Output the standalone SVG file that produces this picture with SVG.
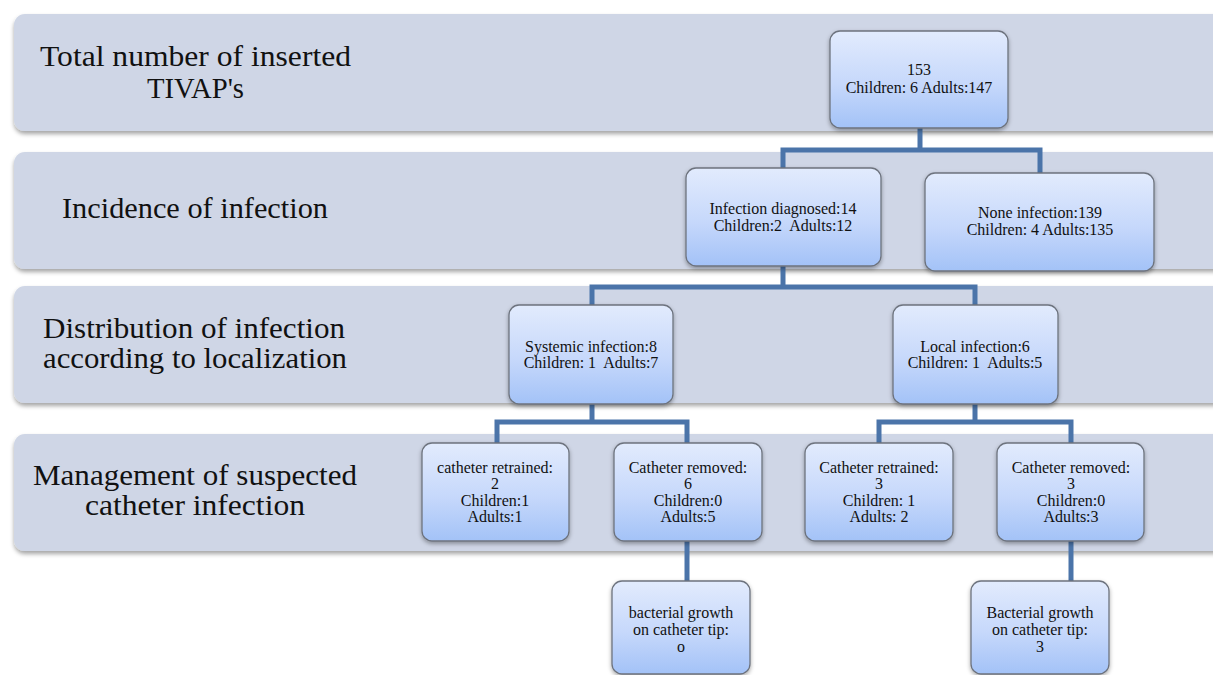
<svg xmlns="http://www.w3.org/2000/svg" width="1213" height="675" viewBox="0 0 1213 675">
  <defs>
    <linearGradient id="boxFill" x1="0" y1="0" x2="0" y2="1">
      <stop offset="0" stop-color="#e2ebfd"/>
      <stop offset="0.55" stop-color="#c6d8fb"/>
      <stop offset="1" stop-color="#a3c2f7"/>
    </linearGradient>
    <filter id="bandShadow" x="-5%" y="-20%" width="110%" height="150%">
      <feDropShadow dx="0" dy="3" stdDeviation="2" flood-color="#000" flood-opacity="0.35"/>
    </filter>
    <filter id="boxShadow" x="-10%" y="-10%" width="120%" height="130%">
      <feDropShadow dx="0" dy="2" stdDeviation="2" flood-color="#000" flood-opacity="0.35"/>
    </filter>
  </defs>
  <style>
    .band { fill: #cfd6e6; filter: url(#bandShadow); }
    .label { font-family: "Liberation Serif", "Times New Roman", serif; font-size: 29px; fill: #111; text-anchor: middle; }
    .box { fill: url(#boxFill); stroke: #6d737e; stroke-width: 1.3; filter: url(#boxShadow); }
    .txt { font-family: "Liberation Serif", "Times New Roman", serif; font-size: 16px; fill: #111; text-anchor: middle; white-space: pre; }
    .link { fill: none; stroke: #4b74a9; stroke-width: 5; stroke-linejoin: miter; }
  </style>
  <rect width="1213" height="675" fill="#ffffff"/>

  <!-- category bands with row labels -->
  <g id="band-total">
    <rect class="band" x="14" y="14" width="1230" height="117" rx="11"/>
    <text class="label" x="195.5" y="66" textLength="311" lengthAdjust="spacingAndGlyphs">Total number of inserted</text>
    <text class="label" x="195.5" y="98" textLength="97" lengthAdjust="spacingAndGlyphs">TIVAP's</text>
  </g>
  <g id="band-incidence">
    <rect class="band" x="14" y="152" width="1230" height="117" rx="11"/>
    <text class="label" x="195" y="218" textLength="266" lengthAdjust="spacingAndGlyphs">Incidence of infection</text>
  </g>
  <g id="band-distribution">
    <rect class="band" x="14" y="286" width="1230" height="117" rx="11"/>
    <text class="label" x="194" y="338" textLength="302" lengthAdjust="spacingAndGlyphs">Distribution of infection</text>
    <text class="label" x="195" y="368" textLength="304" lengthAdjust="spacingAndGlyphs">according to localization</text>
  </g>
  <g id="band-management">
    <rect class="band" x="14" y="434" width="1230" height="117" rx="11"/>
    <text class="label" x="195" y="485" textLength="324" lengthAdjust="spacingAndGlyphs">Management of suspected</text>
    <text class="label" x="195" y="515" textLength="220" lengthAdjust="spacingAndGlyphs">catheter infection</text>
  </g>

  <!-- tree connectors -->
  <g id="connectors">
    <path class="link" d="M920 128 V150 M783 168 V150 H1040 V173"/>
    <path class="link" d="M783 266 V287 M592 305 V287 H975 V305"/>
    <path class="link" d="M592 404 V422 M497 443 V422 H687 V443"/>
    <path class="link" d="M975 404 V422 M879 443 V422 H1071 V443"/>
    <path class="link" d="M687 541 V581"/>
    <path class="link" d="M1071 541 V581"/>
  </g>

  <g id="node-total">
    <rect class="box" x="830" y="31" width="178" height="97" rx="10"/>
    <text class="txt" x="919" y="75">153</text>
    <text class="txt" x="919" y="93">Children: 6 Adults:147</text>
  </g>
  <g id="node-infected">
    <rect class="box" x="686" y="168" width="195" height="98" rx="10"/>
    <text class="txt" x="783" y="214">Infection diagnosed:14</text>
    <text class="txt" x="783" y="231">Children:2  Adults:12</text>
  </g>
  <g id="node-none">
    <rect class="box" x="925" y="173" width="229" height="98" rx="10"/>
    <text class="txt" x="1040" y="218">None infection:139</text>
    <text class="txt" x="1040" y="235">Children: 4 Adults:135</text>
  </g>
  <g id="node-systemic">
    <rect class="box" x="509" y="305" width="164" height="99" rx="10"/>
    <text class="txt" x="591" y="352">Systemic infection:8</text>
    <text class="txt" x="591" y="368">Children: 1  Adults:7</text>
  </g>
  <g id="node-local">
    <rect class="box" x="893" y="305" width="165" height="99" rx="10"/>
    <text class="txt" x="975" y="352">Local infection:6</text>
    <text class="txt" x="975" y="368">Children: 1  Adults:5</text>
  </g>
  <g id="node-sys-retained">
    <rect class="box" x="422" y="443" width="147" height="98" rx="10"/>
    <text class="txt" x="495" y="473">catheter retrained:</text>
    <text class="txt" x="495" y="489">2</text>
    <text class="txt" x="495" y="506">Children:1</text>
    <text class="txt" x="495" y="522">Adults:1</text>
  </g>
  <g id="node-sys-removed">
    <rect class="box" x="614" y="443" width="148" height="98" rx="10"/>
    <text class="txt" x="688" y="473">Catheter removed:</text>
    <text class="txt" x="688" y="489">6</text>
    <text class="txt" x="688" y="506">Children:0</text>
    <text class="txt" x="688" y="522">Adults:5</text>
  </g>
  <g id="node-loc-retained">
    <rect class="box" x="805" y="443" width="148" height="98" rx="10"/>
    <text class="txt" x="879" y="473">Catheter retrained:</text>
    <text class="txt" x="879" y="489">3</text>
    <text class="txt" x="879" y="506">Children: 1</text>
    <text class="txt" x="879" y="522">Adults: 2</text>
  </g>
  <g id="node-loc-removed">
    <rect class="box" x="997" y="443" width="147" height="98" rx="10"/>
    <text class="txt" x="1071" y="473">Catheter removed:</text>
    <text class="txt" x="1071" y="489">3</text>
    <text class="txt" x="1071" y="506">Children:0</text>
    <text class="txt" x="1071" y="522">Adults:3</text>
  </g>
  <g id="node-sys-growth">
    <rect class="box" x="612" y="581" width="138" height="93" rx="10"/>
    <text class="txt" x="681" y="618">bacterial growth</text>
    <text class="txt" x="681" y="635">on catheter tip:</text>
    <text class="txt" x="681" y="652">o</text>
  </g>
  <g id="node-loc-growth">
    <rect class="box" x="971" y="581" width="138" height="93" rx="10"/>
    <text class="txt" x="1040" y="618">Bacterial growth</text>
    <text class="txt" x="1040" y="635">on catheter tip:</text>
    <text class="txt" x="1040" y="652">3</text>
  </g>
</svg>
